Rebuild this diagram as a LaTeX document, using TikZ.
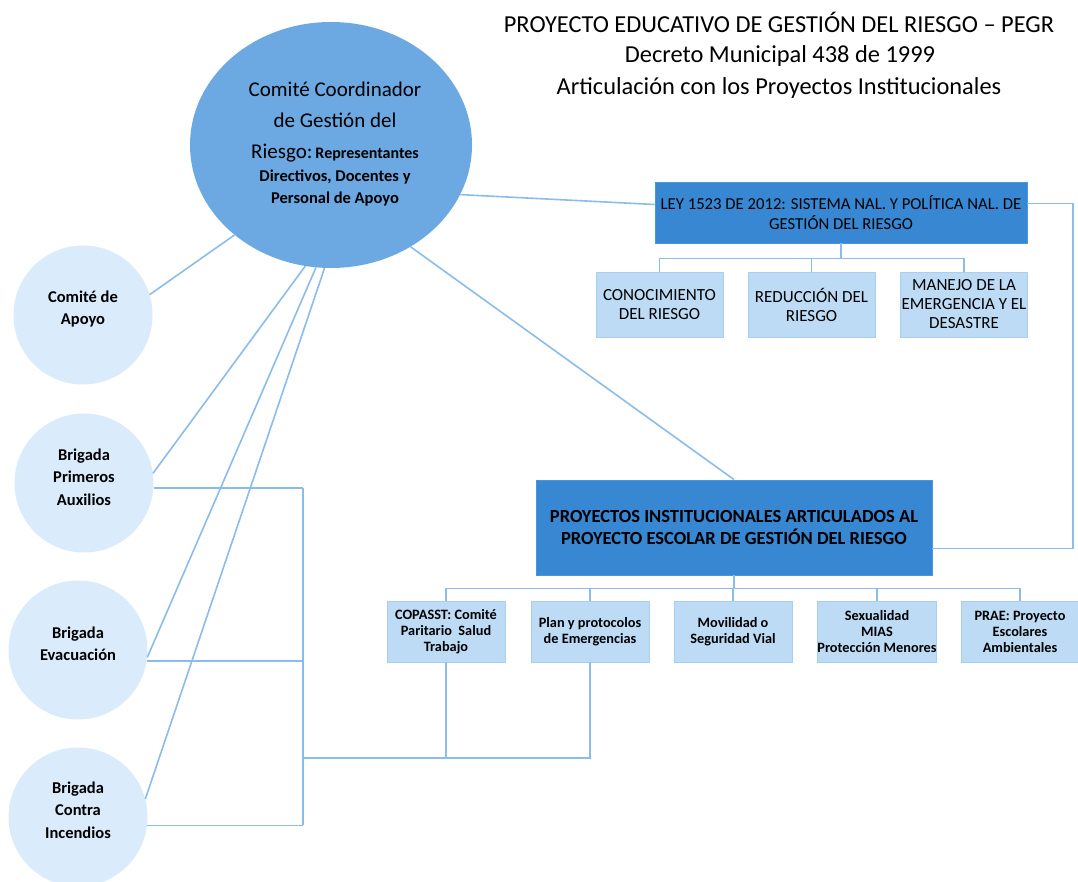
\documentclass[tikz,border=0pt]{standalone}
\usepackage{fontspec}
\setmainfont{Carlito}
\usetikzlibrary{shapes.geometric,calc}
\definecolor{bigc}{RGB}{108,168,226}
\definecolor{smc}{RGB}{218,235,252}
\definecolor{darkc}{RGB}{55,135,210}
\definecolor{darkedge}{RGB}{70,150,225}
\definecolor{lightc}{RGB}{189,219,245}
\definecolor{lightedge}{RGB}{170,205,240}
\definecolor{linec}{RGB}{140,188,235}
\tikzset{
  conn/.style={draw=linec, line width=1.6pt},
  bigell/.style={ellipse, fill=bigc, minimum width=282pt, minimum height=246pt, inner sep=0pt},
  smallc/.style={circle, fill=smc, minimum size=139pt, inner sep=0pt},
  ctext/.style={align=center, inner sep=0pt, font=\bfseries\fontsize{16.5}{22.5}\selectfont},
  darkbox/.style={rectangle, fill=darkc, draw=darkedge, line width=0.8pt, align=center, inner sep=0pt},
  lightbox/.style={rectangle, fill=lightc, draw=lightedge, line width=0.6pt, align=center, inner sep=0pt},
  toptitle/.style={anchor=base, font=\fontsize{24.4}{28}\selectfont, inner sep=0pt},
  bigtxt/.style={anchor=base, inner sep=0pt, font=\fontsize{21}{25}\selectfont},
  smalltxt/.style={anchor=base, inner sep=0pt, font=\bfseries\fontsize{16.5}{18}\selectfont},
}
\begin{document}
\begin{tikzpicture}[x=1pt,y=-1pt]
\useasboundingbox (0,0) rectangle (1078,882);
\fill[white] (0,0) rectangle (1078,882);

% title
\node[toptitle] (ti1) at (779,33) {PROYECTO EDUCATIVO DE GESTIÓN DEL RIESGO – PEGR};
\node[toptitle] (ti2) at (780,63) {Decreto Municipal 438 de 1999};
\node[toptitle] (ti3) at (779,95) {Articulación con los Proyectos Institucionales};

% big ellipse
\node[bigell] (big) at (331,145) {};
\node[bigtxt] (bt1) at (335,97) {Comité Coordinador};
\node[bigtxt] (bt2) at (335,128) {de Gestión del};
\node[anchor=base, inner sep=0pt] (bt3) at (335,159) {{\fontsize{21}{25}\selectfont Riesgo:} {\bfseries\fontsize{16}{18}\selectfont Representantes}};
\node[smalltxt] (bt4) at (335,182) {Directivos, Docentes y};
\node[smalltxt] (bt5) at (335,204) {Personal de Apoyo};

% small circles
\node[smallc] (apoyo) at (83,315) {};
\node[ctext] (apoyoT) at ($(apoyo)+(0,-6)$) {Comité de\\Apoyo};
\node[smallc] (prim) at (84,483) {};
\node[ctext] (primT) at ($(prim)+(0,-6)$) {Brigada\\Primeros\\Auxilios};
\node[smallc] (evac) at (78,650) {};
\node[ctext] (evacT) at ($(evac)+(0,-6)$) {Brigada\\Evacuación};
\node[smallc] (inc) at (78,817) {};
\node[ctext] (incT) at ($(inc)+(0,-7)$) {Brigada\\Contra\\Incendios};

% LEY box and children
\node[darkbox, minimum width=372pt, minimum height=61pt, font=\fontsize{16.7}{20}\selectfont] (ley) at (841,212.5)
  {LEY 1523 DE 2012: SISTEMA NAL. Y POLÍTICA NAL. DE\\GESTIÓN DEL RIESGO};
\tikzset{lawsub/.style={lightbox, minimum width=127pt, minimum height=65pt, font=\fontsize{17}{19}\selectfont}}
\node[lawsub] (cono) at (659.5,304.5) {CONOCIMIENTO\\DEL RIESGO};
\node[lawsub] (redu) at (811.5,304.5) {REDUCCIÓN DEL\\RIESGO};
\node[lawsub] (mane) at (964,304.5) {MANEJO DE LA\\EMERGENCIA Y EL\\DESASTRE};

% PROYECTOS box and children
\node[darkbox, minimum width=396pt, minimum height=95pt, font=\bfseries\fontsize{18.5}{22}\selectfont] (proy) at (734,527.5)
  {PROYECTOS INSTITUCIONALES ARTICULADOS AL\\PROYECTO ESCOLAR DE GESTIÓN DEL RIESGO};
\tikzset{subbox/.style={lightbox, minimum width=118pt, minimum height=61pt, font=\bfseries\fontsize{14.3}{16}\selectfont}}
\node[subbox] (copa) at (446,631.5) {COPASST: Comité\\Paritario\ \ Salud\\Trabajo};
\node[subbox] (plan) at (590,631.5) {Plan y protocolos\\de Emergencias};
\node[subbox] (movi) at (733,631.5) {Movilidad o\\Seguridad Vial};
\node[subbox] (sexu) at (877,631.5) {Sexualidad\\MIAS\\Protección Menores};
\node[subbox] (prae) at (1020,631.5) {PRAE: Proyecto\\Escolares\\Ambientales};

% connectors from the big ellipse
\draw[conn] (big.223) -- (apoyo.17);
\draw[conn] (big.258) -- (prim.8);
\draw[conn] (big.263) -- (evac.354);
\draw[conn] (big.267) -- (inc.15);
\draw[conn] (big.339) -- ([yshift=8pt]ley.west);
\draw[conn] (big.308) -- (proy.north);

% right connector LEY -> PROYECTOS
\coordinate (rc) at (1073,0);
\draw[conn] ([yshift=9pt]ley.east) -- ([yshift=9pt]ley.east -| rc) -- ([yshift=-21pt]proy.east -| rc) -- ([yshift=-21pt]proy.east);

% LEY tree
\draw[conn] (ley.south) -- ++(0,15) coordinate (lj);
\draw[conn] (cono.north) |- (lj) -| (mane.north);
\draw[conn] (redu.north) -- (redu.north |- lj);

% PROYECTOS tree
\draw[conn] (proy.south) -- ++(0,13) coordinate (pj);
\draw[conn] (copa.north) |- (pj) -| (prae.north);
\draw[conn] (plan.north) -- (plan.north |- pj);
\draw[conn] (movi.north) -- (movi.north |- pj);
\draw[conn] (sexu.north) -- (sexu.north |- pj);

% brigades bracket
\coordinate (bx) at (303,0);
\draw[conn] (prim.356) -- (prim.356 -| bx);
\draw[conn] (evac.351) -- (evac.351 -| bx);
\draw[conn] (inc.353) -- (inc.353 -| bx);
\draw[conn] (prim.356 -| bx) -- (inc.353 -| bx);
\coordinate (bj) at (303,758);
\draw[conn] (copa.south) -- (copa.south |- bj);
\draw[conn] (plan.south) -- (plan.south |- bj) -- (bj);
\end{tikzpicture}
\end{document}
